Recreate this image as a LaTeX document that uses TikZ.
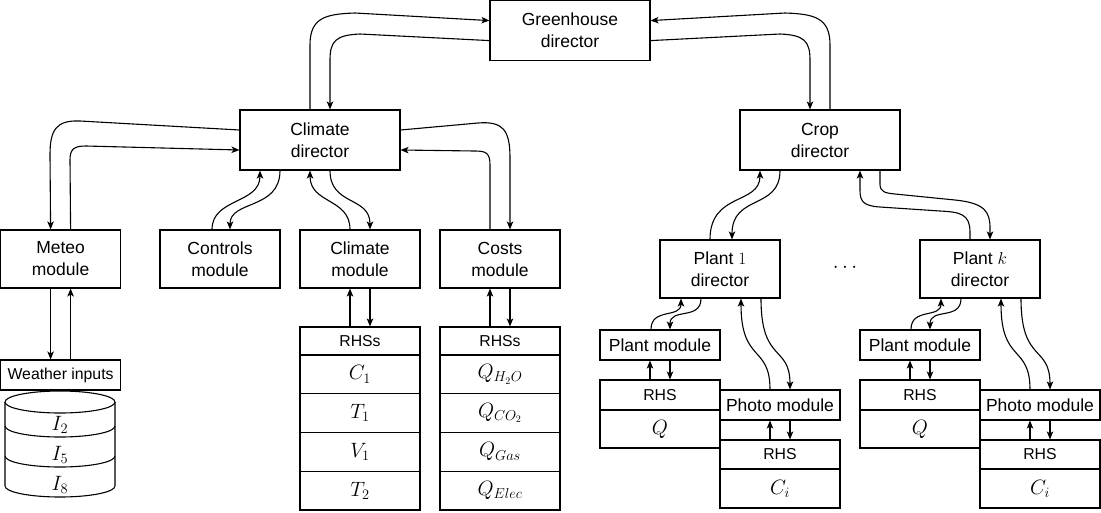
\documentclass[tikz,border=0pt]{standalone}
\usepackage{fontspec}
\setmainfont{Liberation Sans}
\usetikzlibrary{arrows.meta,calc}
\newcommand{\mainsz}{\fontsize{17.5}{22}\selectfont}
\newcommand{\hdrsz}{\fontsize{15.8}{19}\selectfont}
\newcommand{\mathsz}{\fontsize{20}{24}\selectfont}
\begin{document}
\begin{tikzpicture}[x=1pt,y=-1pt,
  ln/.style={line width=1.1pt},
  arr/.style={ln,-{Stealth[length=8pt,width=6.5pt,inset=2pt]}},
  dirbox/.style={draw,ln,minimum width=160pt,minimum height=60pt,inner sep=1pt,align=center,font=\mainsz},
  modbox/.style={draw,ln,minimum width=120pt,minimum height=58pt,inner sep=1pt,align=center,font=\mainsz},
  smodbox/.style={draw,ln,minimum width=120pt,minimum height=30pt,inner sep=1pt,align=center,font=\mainsz},
  cellbox/.style={draw,ln,minimum width=120pt,minimum height=#1,inner sep=0pt,align=center,font=\mathsz},
  hdrbox/.style={draw,ln,minimum width=120pt,minimum height=#1,inner sep=0pt,align=center,font=\hdrsz}]
\useasboundingbox (0,0) rectangle (1101,512);

% directors
\node[dirbox] (gh) at (570,30.6) {Greenhouse\\director};
\node[dirbox] (cd) at (320,140) {Climate\\director};
\node[dirbox] (crd) at (820,140) {Crop\\director};

% modules
\node[modbox] (meteo) at (60.6,259) {Meteo\\module};
\node[modbox] (ctrl) at (220,259) {Controls\\module};
\node[modbox] (climm) at (360,259) {Climate\\module};
\node[modbox] (costm) at (500,259) {Costs\\module};
\node[modbox] (p1) at (720,269) {Plant $1$\\director};
\node[modbox] (pk) at (980,269) {Plant $k$\\director};
\node[font=\mathsz] (dots) at (845,268) {$\cdots$};

% weather inputs
\node[smodbox,font=\hdrsz] (wi) at (60.6,375) {Weather inputs};
\draw[ln] (5,402) -- (5,486) arc[start angle=180,end angle=360,x radius=55pt,y radius=11pt] -- (115,402);
\draw[ln] (60,402) ellipse [x radius=55pt,y radius=11pt];
\draw[ln] (5,426) arc[start angle=180,end angle=360,x radius=55pt,y radius=11pt];
\draw[ln] (5,456) arc[start angle=180,end angle=360,x radius=55pt,y radius=11pt];
\node[font=\mathsz] (i2) at (60,425) {$I_2$};
\node[font=\mathsz] (i5) at (60,455) {$I_5$};
\node[font=\mathsz] (i8) at (60,485) {$I_8$};

% climate table
\node[hdrbox=28pt] (crh) at (360,341) {RHSs};
\node[cellbox=38.75pt] (cc1) at (360,374.375) {$C_1$};
\node[cellbox=38.75pt] (ct1) at (360,413.125) {$T_1$};
\node[cellbox=38.75pt] (cv1) at (360,451.875) {$V_1$};
\node[cellbox=38.75pt] (ct2) at (360,490.625) {$T_2$};
% costs table
\node[hdrbox=28pt] (qrh) at (500,341) {RHSs};
\node[cellbox=38.75pt] (q1) at (500,374.375) {$Q_{H_2O}$};
\node[cellbox=38.75pt] (q2) at (500,413.125) {$Q_{CO_2}$};
\node[cellbox=38.75pt] (q3) at (500,451.875) {$Q_{Gas}$};
\node[cellbox=38.75pt] (q4) at (500,490.625) {$Q_{Elec}$};

% plant 1 branch
\node[smodbox] (pm1) at (660,345) {Plant module};
\node[hdrbox=30pt] (pr1) at (660,395) {RHS};
\node[cellbox=38pt] (pq1) at (660,429) {$Q$};
\node[smodbox] (ph1) at (780,405) {Photo module};
\node[hdrbox=29pt] (phr1) at (780,454.5) {RHS};
\node[cellbox=39pt] (pc1) at (780,488.5) {$C_i$};
% plant k branch
\node[smodbox] (pmk) at (920,345) {Plant module};
\node[hdrbox=30pt] (prk) at (920,395) {RHS};
\node[cellbox=38pt] (pqk) at (920,429) {$Q$};
\node[smodbox] (phk) at (1040,405) {Photo module};
\node[hdrbox=29pt] (phrk) at (1040,454.5) {RHS};
\node[cellbox=39pt] (pck) at (1040,488.5) {$C_i$};

% greenhouse <-> climate / crop
\draw[arr] ([xshift=-10pt]cd.north) -- (310,45) .. controls (310,18) and (325,14) .. (355,13) -- ([yshift=10pt]gh.west);
\draw[arr] ([yshift=-10pt]gh.west) -- (360,34) .. controls (336,35) and (330,41) .. (330,60) -- ([xshift=10pt]cd.north);
\draw[arr] ([xshift=10pt]crd.north) -- (830,45) .. controls (830,18) and (815,14) .. (785,13) -- ([yshift=10pt]gh.east);
\draw[arr] ([yshift=-10pt]gh.east) -- (780,34) .. controls (804,35) and (810,41) .. (810,60) -- ([xshift=-10pt]crd.north);

% climate director <-> meteo
\draw[arr] ([yshift=10pt]cd.west) -- (80,121) .. controls (56,120) and (50,130) .. (50,155) -- ([xshift=-10pt]meteo.north);
\draw[arr] ([xshift=10pt]meteo.north) -- (70,160) .. controls (70,149) and (74,146) .. (86,146) -- ([yshift=-10pt]cd.west);
% climate director <-> controls
\draw[arr] ([xshift=-8pt]ctrl.north) .. controls (212,198) and (260,204) .. ([xshift=-60pt]cd.south);
\draw[arr] ([xshift=-40pt]cd.south) .. controls (280,210) and (230,200) .. ([xshift=10pt]ctrl.north);
% climate director <-> climate module
\draw[arr] ([xshift=-10pt]climm.north) .. controls (350,198) and (310,204) .. ([xshift=-10pt]cd.south);
\draw[arr] ([xshift=10pt]cd.south) .. controls (330,206) and (370,196) .. ([xshift=10pt]climm.north);
% climate director <-> costs
\draw[arr] ([yshift=10pt]cd.east) -- (478,123) .. controls (503,121) and (510,130) .. (510,158) -- ([xshift=10pt]costm.north);
\draw[arr] ([xshift=-10pt]costm.north) -- (490,165) .. controls (490,153) and (486,151) .. (475,151) -- ([yshift=-10pt]cd.east);

% modules <-> tables
\draw[arr] ([xshift=-10pt]meteo.south) -- ([xshift=-10pt]wi.north);
\draw[arr] ([xshift=10pt]wi.north) -- ([xshift=10pt]meteo.south);
\draw[arr] ([xshift=-10pt]crh.north) -- ([xshift=-10pt]climm.south);
\draw[arr] ([xshift=10pt]climm.south) -- ([xshift=10pt]crh.north);
\draw[arr] ([xshift=-10pt]qrh.north) -- ([xshift=-10pt]costm.south);
\draw[arr] ([xshift=10pt]costm.south) -- ([xshift=10pt]qrh.north);

% crop director <-> plant directors
\draw[arr] ([xshift=-10pt]p1.north) .. controls (710,192) and (760,205) .. ([xshift=-60pt]crd.south);
\draw[arr] ([xshift=-40pt]crd.south) .. controls (780,210) and (732,194) .. ([xshift=12pt]p1.north);
\draw[arr] ([xshift=-10pt]pk.north) -- (970,232) .. controls (970,214) and (960,212) .. (940,211) -- (880,207) .. controls (862,206) and (860,200) .. (860,190) -- ([xshift=40pt]crd.south);
\draw[arr] ([xshift=60pt]crd.south) -- (880,184) .. controls (880,192) and (885,193) .. (895,194) -- (955,200) .. controls (985,203) and (990,212) .. (990,228) -- ([xshift=10pt]pk.north);

% plant directors <-> plant/photo modules
\foreach \pd/\pm/\ph/\pr/\phr in {p1/pm1/ph1/pr1/phr1, pk/pmk/phk/prk/phrk}{
  \draw[arr] ([xshift=-9pt]\pm.north) .. controls +(0,-22) and +(0,20) .. ([xshift=-39pt]\pd.south);
  \draw[arr] ([xshift=-19pt]\pd.south) .. controls +(0,22) and +(0,-22) .. ([xshift=10pt]\pm.north);
  \draw[arr] ([xshift=-10pt]\ph.north) .. controls +(0,-45) and +(0,65) .. ([xshift=21pt]\pd.south);
  \draw[arr] ([xshift=41pt]\pd.south) .. controls +(0,65) and +(0,-45) .. ([xshift=10pt]\ph.north);
  \draw[arr] ([xshift=-10pt]\pr.north) -- ([xshift=-10pt]\pm.south);
  \draw[arr] ([xshift=10pt]\pm.south) -- ([xshift=10pt]\pr.north);
  \draw[arr] ([xshift=-10pt]\phr.north) -- ([xshift=-10pt]\ph.south);
  \draw[arr] ([xshift=10pt]\ph.south) -- ([xshift=10pt]\phr.north);
}
\end{tikzpicture}
\end{document}
